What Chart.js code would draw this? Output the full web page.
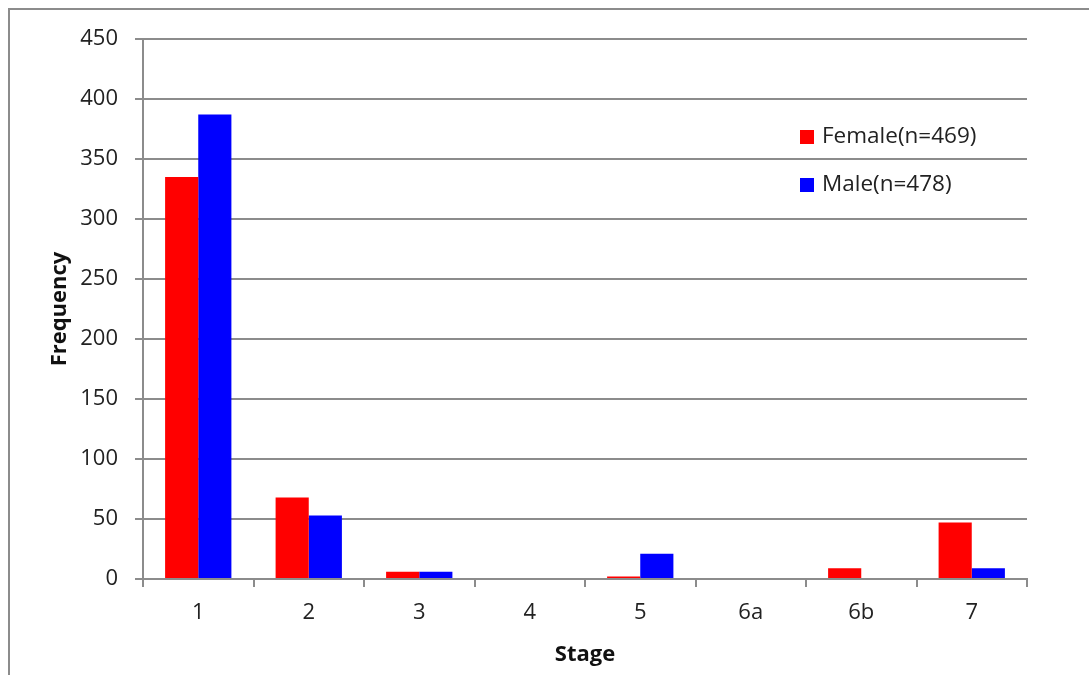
<!DOCTYPE html>
<html>
<head>
<meta charset="utf-8">
<script src="https://cdn.jsdelivr.net/npm/chart.js@4.4.1/dist/chart.umd.min.js"></script>
<style>
  html, body { margin:0; padding:0; background:#fff; }
  #wrap { position:relative; width:1089px; height:675px; overflow:hidden; }
  #frame { position:absolute; left:8px; top:8px; width:1200px; height:800px; border:2px solid #8c8c8c; }
  canvas { position:absolute; left:0; top:0; }
</style>
</head>
<body>
<div id="wrap">
  <div id="frame"></div>
  <canvas id="chart" width="1089" height="675"></canvas>
</div>
<script>
// ————— Data —————
const stages     = ['1', '2', '3', '4', '5', '6a', '6b', '7'];
const femaleVals = [335, 68, 6, 0, 2, 0, 9, 47];
const maleVals   = [387, 53, 6, 0, 21, 0, 0, 9];
const yTicks     = [0, 50, 100, 150, 200, 250, 300, 350, 400, 450];

const gray = '#8c8c8c';
const font = '"Open Sans", Lato, sans-serif';

// ————— Legend drawn inside the plot —————
const insideLegend = {
  id: 'insideLegend',
  afterDraw(chart) {
    const ctx = chart.ctx;
    ctx.save();
    ctx.font = `22.5px ${font}`;
    ctx.textBaseline = 'middle';
    chart.data.datasets.forEach((ds, i) => {
      const y = 137 + i * 48;
      ctx.fillStyle = ds.backgroundColor;
      ctx.fillRect(800, y - 7, 14, 14);
      ctx.fillStyle = '#222';
      ctx.fillText(ds.label, 822, y);
    });
    ctx.restore();
  }
};

new Chart(document.getElementById('chart'), {
  type: 'bar',
  data: {
    labels: stages,
    datasets: [
      { label: 'Female(n=469)', data: femaleVals, backgroundColor: '#ff0000', categoryPercentage: 0.6, barPercentage: 1 },
      { label: 'Male(n=478)',   data: maleVals,   backgroundColor: '#0000ff', categoryPercentage: 0.6, barPercentage: 1 }
    ]
  },
  options: {
    responsive: false,
    animation: false,
    layout: { padding: { left: 20, top: 39, right: 62, bottom: 0 } },
    plugins: { legend: { display: false }, tooltip: { enabled: false } },
    scales: {
      x: {
        grid: { display: true, drawOnChartArea: false, drawTicks: true, tickLength: 8, color: gray, lineWidth: 2 },
        border: { color: gray, width: 2 },
        ticks: { color: '#222', font: { family: font, size: 22 }, padding: 13 },
        title: { display: true, text: 'Stage', color: '#111', font: { family: font, size: 22, weight: 'bold' }, padding: { top: 0, bottom: 7 } },
        afterFit: s => { s.height = 96; }
      },
      y: {
        min: 0, max: 450,
        afterBuildTicks: s => { s.ticks = yTicks.map(v => ({ value: v })); },
        grid: { color: gray, lineWidth: 2, tickLength: 8 },
        border: { color: gray, width: 2 },
        ticks: { color: '#222', font: { family: font, size: 22 }, padding: 17 },
        title: { display: true, text: 'Frequency', color: '#111', font: { family: font, size: 22, weight: 'bold' }, padding: { top: 27, bottom: 0 } },
        afterFit: s => { s.width = 123; }
      }
    }
  },
  plugins: [insideLegend]
});
</script>
</body>
</html>
